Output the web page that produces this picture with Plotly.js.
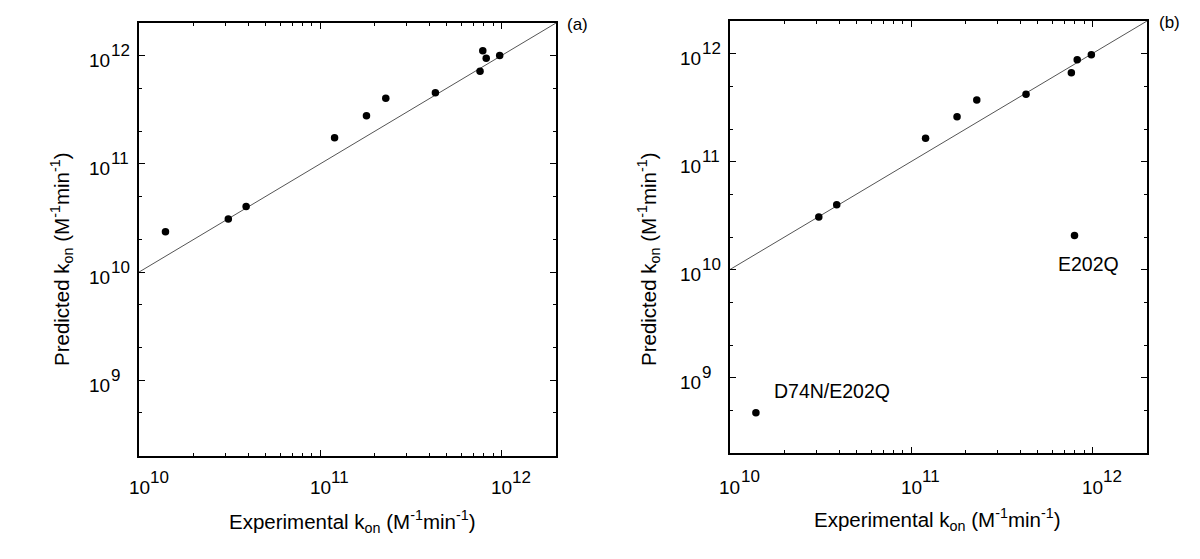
<!DOCTYPE html>
<html>
<head>
<meta charset="utf-8">
<script src="https://cdn.plot.ly/plotly-3.0.1.min.js"></script>
<style>html,body{margin:0;padding:0;background:#fff;}#chart{width:1200px;height:559px;}</style>
</head>
<body>
<div id="chart"></div>
<script>
// ---- data ----
const panelLabels = ['(a)', '(b)'];
const tickBase = '10';
const xTickVals = [1e10, 1e11, 1e12];
const xTickExp = ['10', '11', '12'];
const yTickVals = [1e9, 1e10, 1e11, 1e12];
const yTickExp = ['9', '10', '11', '12'];
const xMinorVals = [2e10, 3e10, 4e10, 5e10, 6e10, 7e10, 8e10, 9e10, 2e11, 3e11, 4e11, 5e11, 6e11, 7e11, 8e11, 9e11];
const yMinorVals = [5e8, 2e9, 5e9, 2e10, 5e10, 2e11, 5e11];
const axisRange = [1e10, 2e12];      // x axis span
const yAxisRange = [2e8, 2e12];      // y axis span
const identityLine = [1e10, 2e12];   // y = x reference line

// panel (a): experimental vs predicted kon
const expA  = [1.40e10, 3.11e10, 3.90e10, 1.20e11, 1.80e11, 2.30e11, 4.32e11, 7.62e11, 7.89e11, 8.24e11, 9.78e11];
const predA = [2.36e10, 3.10e10, 4.03e10, 1.74e11, 2.78e11, 4.03e11, 4.54e11, 7.16e11, 1.11e12, 9.44e11, 1.00e12];

// panel (b)
const expB  = [1.39e10, 3.09e10, 3.88e10, 1.20e11, 1.79e11, 2.30e11, 4.30e11, 7.65e11, 7.96e11, 8.24e11, 9.86e11];
const predB = [4.72e8, 3.06e10, 3.98e10, 1.64e11, 2.59e11, 3.72e11, 4.19e11, 6.64e11, 2.06e10, 8.75e11, 9.73e11];
const labelsB = ['D74N/E202Q', '', '', '', '', '', '', '', 'E202Q', '', ''];

const xTitle = 'Experimental k<sub>on</sub> (M<sup>-1</sup>min<sup>-1</sup>)';
const yTitle = 'Predicted k<sub>on</sub> (M<sup>-1</sup>min<sup>-1</sup>)';

// ---- chart ----
const FONT = '"Liberation Sans", Arial, Helvetica, sans-serif';
const W = 1200, H = 559;
const px = v => v / W, py = v => 1 - v / H;
const baseFont = {family: FONT, size: 19, color: '#000'};
const expFont = {family: FONT, size: 17, color: '#000'};

function xAxis(domain, anchor) {
  return {
    type: 'log', domain: domain, anchor: anchor,
    range: axisRange.map(Math.log10),
    showline: true, linecolor: '#000', linewidth: 1.6, mirror: 'allticks',
    ticks: 'inside', ticklen: 6, tickwidth: 1, tickcolor: '#000',
    tickmode: 'array', tickvals: xTickVals, showticklabels: false,
    minor: {tickmode: 'array', tickvals: xMinorVals, ticks: 'inside', ticklen: 3, tickwidth: 1, tickcolor: '#000'},
    showgrid: false, zeroline: false, fixedrange: true
  };
}
function yAxis(domain, anchor) {
  return {
    type: 'log', domain: domain, anchor: anchor,
    range: yAxisRange.map(Math.log10),
    showline: true, linecolor: '#000', linewidth: 1.6, mirror: 'allticks',
    ticks: 'inside', ticklen: 6, tickwidth: 1, tickcolor: '#000',
    tickmode: 'array', tickvals: yTickVals, showticklabels: false,
    minor: {tickmode: 'array', tickvals: yMinorVals, ticks: 'inside', ticklen: 3, tickwidth: 1, tickcolor: '#000'},
    showgrid: false, zeroline: false, fixedrange: true
  };
}

const markerStyle = {color: '#000', size: 7.5};
const lineStyle = {color: '#555', width: 1};

const traces = [
  {x: identityLine, y: identityLine, xaxis: 'x', yaxis: 'y', mode: 'lines', line: lineStyle, hoverinfo: 'skip'},
  {x: expA, y: predA, xaxis: 'x', yaxis: 'y', mode: 'markers', marker: markerStyle},
  {x: identityLine, y: identityLine, xaxis: 'x2', yaxis: 'y2', mode: 'lines', line: lineStyle, hoverinfo: 'skip'},
  {x: expB, y: predB, xaxis: 'x2', yaxis: 'y2', mode: 'markers', marker: markerStyle}
];

const annotations = [];
const ann = o => annotations.push(Object.assign({showarrow: false, borderpad: 0, borderwidth: 0}, o));

// x tick labels: base "10" centred on the tick, exponent raised to its right
[['x', 488], ['x2', 487]].forEach(([xr, yc]) => {
  xTickVals.forEach((v, i) => {
    ann({xref: xr, yref: 'paper', x: Math.log10(v), y: py(yc), text: tickBase,
      xanchor: 'center', yanchor: 'middle', xshift: 0, font: baseFont});
    ann({xref: xr, yref: 'paper', x: Math.log10(v), y: py(yc - 10.5), text: xTickExp[i],
      xanchor: 'left', yanchor: 'middle', xshift: 11, font: expFont});
  });
});
// y tick labels: "10" right of which the exponent sits
[['y', 139], ['y2', 730]].forEach(([yr, frameX]) => {
  yTickVals.forEach((v, i) => {
    ann({xref: 'paper', yref: yr, x: px(frameX - 29), y: Math.log10(v), text: tickBase,
      xanchor: 'right', yanchor: 'middle', yshift: -5, font: baseFont});
    ann({xref: 'paper', yref: yr, x: px(frameX - 28.5), y: Math.log10(v), text: yTickExp[i],
      xanchor: 'left', yanchor: 'middle', yshift: 5, font: expFont});
  });
});
// axis titles
const titleFont = {family: FONT, size: 20.5, color: '#000'};
ann({xref: 'paper', yref: 'paper', x: px(352), y: py(521), text: xTitle, font: titleFont, xanchor: 'center', yanchor: 'middle'});
ann({xref: 'paper', yref: 'paper', x: px(937), y: py(519), text: xTitle, font: titleFont, xanchor: 'center', yanchor: 'middle'});
ann({xref: 'paper', yref: 'paper', x: px(61), y: py(259), text: yTitle, textangle: -90, font: titleFont, xanchor: 'center', yanchor: 'middle'});
ann({xref: 'paper', yref: 'paper', x: px(648), y: py(259), text: yTitle, textangle: -90, font: titleFont, xanchor: 'center', yanchor: 'middle'});
// panel labels
ann({xref: 'paper', yref: 'paper', x: px(577), y: py(25), text: panelLabels[0], font: {family: FONT, size: 17, color: '#000'}, xanchor: 'center', yanchor: 'middle'});
ann({xref: 'paper', yref: 'paper', x: px(1169), y: py(22), text: panelLabels[1], font: {family: FONT, size: 17, color: '#000'}, xanchor: 'center', yanchor: 'middle'});
// point labels in panel (b)
const labelShift = {'D74N/E202Q': [76, 22], 'E202Q': [14, -28]};
labelsB.forEach((t, i) => {
  if (!t) return;
  ann({xref: 'x2', yref: 'y2', x: Math.log10(expB[i]), y: Math.log10(predB[i]), text: t,
    xshift: labelShift[t][0], yshift: labelShift[t][1],
    font: {family: FONT, size: 19.5, color: '#000'}, xanchor: 'center', yanchor: 'middle'});
});

const layout = {
  width: W, height: H,
  margin: {l: 0, r: 0, t: 0, b: 0},
  paper_bgcolor: '#fff', plot_bgcolor: '#fff',
  showlegend: false,
  font: {family: FONT, color: '#000'},
  xaxis: xAxis([px(139), px(556)], 'y'),
  yaxis: yAxis([py(456), py(23)], 'x'),
  xaxis2: xAxis([px(730), px(1147)], 'y2'),
  yaxis2: yAxis([py(453), py(21)], 'x2'),
  annotations: annotations
};

Plotly.newPlot('chart', traces, layout, {displayModeBar: false, staticPlot: true});
</script>
</body>
</html>
